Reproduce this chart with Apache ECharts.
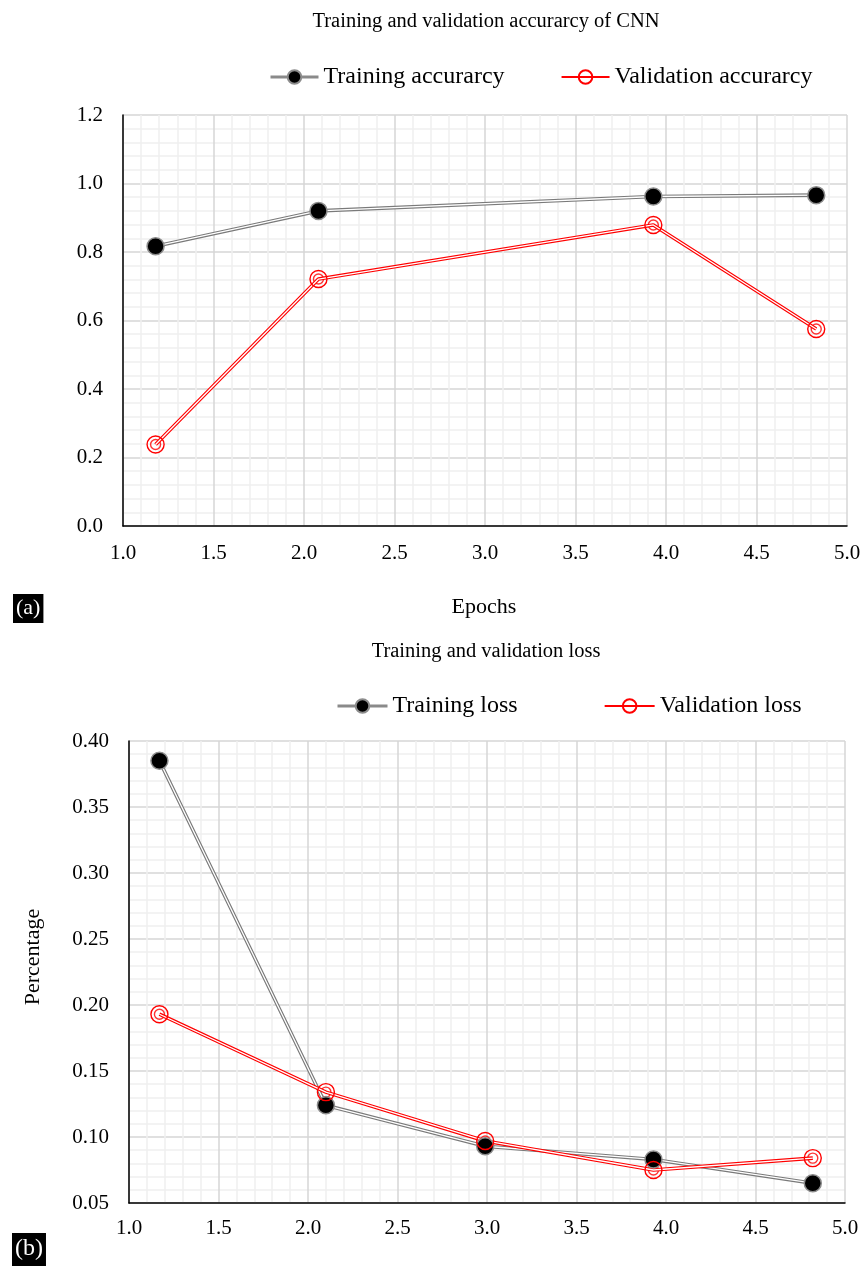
<!DOCTYPE html>
<html>
<head>
<meta charset="utf-8">
<script src="https://cdn.jsdelivr.net/npm/echarts@6/dist/echarts.min.js"></script>
<style>
html,body{margin:0;padding:0;background:#fff;}
#c{width:866px;height:1270px;}
</style>
</head>
<body>
<div id="c"></div>
<script>
// ---- data (a) accuracy ----
const accEpochs = [1.18, 2.08, 3.93, 4.83];
const trainAcc = [0.817, 0.920, 0.962, 0.966];
const valAcc = [0.238, 0.721, 0.879, 0.575];
// ---- data (b) loss ----
const lossEpochs = [1.17, 2.10, 2.99, 3.93, 4.82];
const trainLoss = [0.385, 0.124, 0.093, 0.083, 0.065];
const valLoss = [0.193, 0.134, 0.097, 0.075, 0.084];
// ---- ticks ----
const xTicks = { min: 1.0, max: 5.0, step: 0.5 };
const accTicks = { min: 0.0, max: 1.2, step: 0.2 };
const lossTicks = { min: 0.05, max: 0.40, step: 0.05 };

const FONT = '"Liberation Serif", "Times New Roman", serif';
const zip = (xs, ys) => xs.map((x, i) => [x, ys[i]]);

function trainSeries(name, xs, ys, gi) {
  const d = zip(xs, ys);
  return [
    { type: 'line', xAxisIndex: gi, yAxisIndex: gi, data: d, symbol: 'none', silent: true,
      lineStyle: { color: '#7a7a7a', width: 3.6 } },
    { name: name, type: 'line', xAxisIndex: gi, yAxisIndex: gi, data: d, symbol: 'circle', symbolSize: 17,
      lineStyle: { color: '#ffffff', width: 1.3 },
      itemStyle: { color: '#000', borderColor: '#8c8c8c', borderWidth: 1.5 } }
  ];
}
function valSeries(name, xs, ys, gi) {
  const d = zip(xs, ys);
  return [
    { type: 'line', xAxisIndex: gi, yAxisIndex: gi, data: d, symbol: 'none', silent: true,
      lineStyle: { color: '#ff0000', width: 3.6 } },
    { name: name, type: 'line', xAxisIndex: gi, yAxisIndex: gi, data: d, symbol: 'circle', symbolSize: 17,
      lineStyle: { color: '#ffffff', width: 1.3 },
      itemStyle: { color: 'rgba(0,0,0,0)', borderColor: '#ff0000', borderWidth: 1.4 } },
    { type: 'scatter', xAxisIndex: gi, yAxisIndex: gi, data: d, symbol: 'circle', symbolSize: 10, silent: true,
      itemStyle: { color: 'rgba(0,0,0,0)', borderColor: '#ff0000', borderWidth: 1.4 } }
  ];
}

function xAxis(gi, margin) {
  return {
    type: 'value', gridIndex: gi, min: xTicks.min, max: xTicks.max, interval: xTicks.step,
    axisLine: { show: true, onZero: false, lineStyle: { color: '#000', width: 1.5 } },
    axisTick: { show: false },
    axisLabel: { formatter: v => v.toFixed(1), color: '#000', fontSize: 21, fontFamily: FONT, margin: margin },
    splitLine: { show: true, lineStyle: { color: '#d6d6d6', width: 1.5 } },
    minorTick: { show: false, splitNumber: 5 },
    minorSplitLine: { show: true, lineStyle: { color: '#efefef', width: 1.5 } }
  };
}
function yAxis(gi, t, dec) {
  return {
    type: 'value', gridIndex: gi, min: t.min, max: t.max, interval: t.step,
    axisLine: { show: true, onZero: false, lineStyle: { color: '#000', width: 1.5 } },
    axisTick: { show: false },
    axisLabel: { formatter: v => v.toFixed(dec), color: '#000', fontSize: 21, fontFamily: FONT, margin: 20 },
    splitLine: { show: true, lineStyle: { color: '#d6d6d6', width: 1.5 } },
    minorTick: { show: false, splitNumber: 5 },
    minorSplitLine: { show: true, lineStyle: { color: '#efefef', width: 1.5 } }
  };
}

const legendText = { fontSize: 24, fontFamily: FONT, color: '#000' };

const option = {
  animation: false,
  backgroundColor: '#fff',
  grid: [
    { left: 123, right: 19, top: 115, height: 411 },
    { left: 129, right: 21, top: 741, height: 462 }
  ],
  xAxis: [xAxis(0, 17), xAxis(1, 15)],
  yAxis: [yAxis(0, accTicks, 1), yAxis(1, lossTicks, 2)],
  legend: [
    { left: 264, top: 60, itemWidth: 48, itemHeight: 17, itemGap: 56, selectedMode: false,
      textStyle: legendText,
      data: [
        { name: 'Training accurarcy', lineStyle: { color: '#8a8a8a', width: 3 } },
        { name: 'Validation accurarcy', lineStyle: { color: '#ff0000', width: 2 } }
      ] },
    { left: 331, top: 689, itemWidth: 50, itemHeight: 17, itemGap: 86, selectedMode: false,
      textStyle: legendText,
      data: [
        { name: 'Training loss', lineStyle: { color: '#8a8a8a', width: 3 } },
        { name: 'Validation loss', lineStyle: { color: '#ff0000', width: 2 } }
      ] }
  ],
  graphic: [
    { type: 'text', x: 486, y: 22, style: { text: 'Training and validation accurarcy of CNN', font: '20.5px ' + FONT, fill: '#000', align: 'center', verticalAlign: 'middle' } },
    { type: 'text', x: 486, y: 652, style: { text: 'Training and validation loss', font: '20.5px ' + FONT, fill: '#000', align: 'center', verticalAlign: 'middle' } },
    { type: 'text', x: 484, y: 607, style: { text: 'Epochs', font: '22px ' + FONT, fill: '#000', align: 'center', verticalAlign: 'middle' } },
    { type: 'text', x: 33, y: 957, rotation: Math.PI / 2, style: { text: 'Percentage', font: '22px ' + FONT, fill: '#000', align: 'center', verticalAlign: 'middle' } },
    { type: 'text', left: 13, top: 594, style: { text: '(a)', font: '22px ' + FONT, fill: '#fff', backgroundColor: '#000', padding: [3, 3, 4, 3] } },
    { type: 'text', left: 12, top: 1233, style: { text: '(b)', font: '24px ' + FONT, fill: '#fff', backgroundColor: '#000', padding: [4, 3, 5, 3] } }
  ],
  series: [].concat(
    trainSeries('Training accurarcy', accEpochs, trainAcc, 0),
    valSeries('Validation accurarcy', accEpochs, valAcc, 0),
    trainSeries('Training loss', lossEpochs, trainLoss, 1),
    valSeries('Validation loss', lossEpochs, valLoss, 1)
  )
};

const chart = echarts.init(document.getElementById('c'), null, { renderer: 'canvas' });
chart.setOption(option);
</script>
</body>
</html>
